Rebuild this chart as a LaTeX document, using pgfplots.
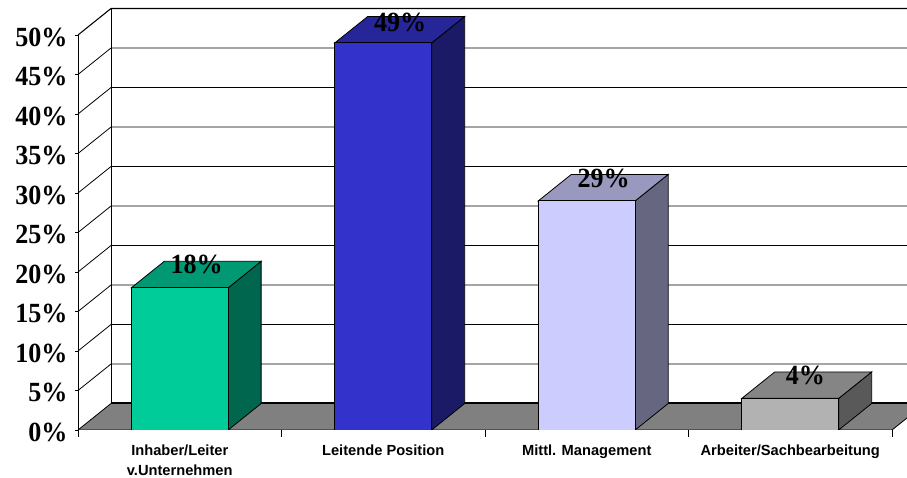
\documentclass[border=0pt]{standalone}
\usepackage{fontspec}
\setmainfont{Liberation Serif}
\newfontfamily\arialf{Liberation Sans}
\newfontfamily\labf[FakeStretch=0.94]{Liberation Serif}
\usepackage{pgfplots}
\pgfplotsset{compat=1.18}
\definecolor{gfront}{RGB}{0,204,153}\definecolor{gtop}{RGB}{0,153,115}\definecolor{gside}{RGB}{0,102,77}
\definecolor{bfront}{RGB}{51,51,204}\definecolor{btop}{RGB}{38,38,153}\definecolor{bside}{RGB}{26,26,102}
\definecolor{lfront}{RGB}{204,204,255}\definecolor{ltop}{RGB}{153,153,191}\definecolor{lside}{RGB}{102,102,128}
\definecolor{hfront}{RGB}{178,178,178}\definecolor{htop}{RGB}{133,133,133}\definecolor{hside}{RGB}{89,89,89}
\definecolor{floorc}{RGB}{128,128,128}
\begin{document}
\begin{tikzpicture}[x=1pt,y=1pt]
\useasboundingbox (-58.5,-36) rectangle (621.75,322.5);
\begin{axis}[
  at={(0pt,0pt)},anchor=south west,
  scale only axis,width=621.75pt,height=322.5pt,
  xmin=0,xmax=4.0737,ymin=0,ymax=54.43,
  axis lines*=left,axis line style={draw=none},
  tick align=outside,
  ytick={0,5,10,15,20,25,30,35,40,45,50},
  yticklabels={0\%,5\%,10\%,15\%,20\%,25\%,30\%,35\%,40\%,45\%,50\%},
  xtick={0.5,1.5,2.5,3.5},
  xticklabels={{Inhaber/Leiter\\v.Unternehmen},{Leitende Position},{Mittl. Management},{Arbeiter/Sachbearbeitung}},
  minor xtick={0,1,2,3,4},
  tickwidth=2.25pt,subtickwidth=5.25pt,
  major x tick style={draw=none},
  tick style={black,line width=0.6pt},
  /pgf/number format/assume math mode=true,
  y tick label style={font=\labf\fontsize{20.8}{21}\selectfont\bfseries,inner sep=1pt,xshift=-4.5pt,yshift=-1.8pt},
  x tick label style={font=\arialf\fontsize{11}{15}\selectfont\bfseries,align=center,yshift=-5pt},
  point meta=explicit symbolic,
]
% back grid lines
\addplot[black,line width=0.6pt,mark=none] coordinates {(0,5)(0.162,8.35)(4.0737,8.35)};
\addplot[black,line width=0.6pt,mark=none] coordinates {(0,10)(0.162,13.35)(4.0737,13.35)};
\addplot[black,line width=0.6pt,mark=none] coordinates {(0,15)(0.162,18.35)(4.0737,18.35)};
\addplot[black,line width=0.6pt,mark=none] coordinates {(0,20)(0.162,23.35)(4.0737,23.35)};
\addplot[black,line width=0.6pt,mark=none] coordinates {(0,25)(0.162,28.35)(4.0737,28.35)};
\addplot[black,line width=0.6pt,mark=none] coordinates {(0,30)(0.162,33.35)(4.0737,33.35)};
\addplot[black,line width=0.6pt,mark=none] coordinates {(0,35)(0.162,38.35)(4.0737,38.35)};
\addplot[black,line width=0.6pt,mark=none] coordinates {(0,40)(0.162,43.35)(4.0737,43.35)};
\addplot[black,line width=0.6pt,mark=none] coordinates {(0,45)(0.162,48.35)(4.0737,48.35)};
\addplot[black,line width=0.8pt,mark=none] coordinates {(0,50)(0.162,53.35)(4.0737,53.35)};
% floor
\addplot[fill=floorc,draw=none,mark=none] coordinates {(0,0)(0.162,3.35)(4.162,3.35)(4,0)} -- cycle;
\addplot[black,line width=1.6pt,mark=none] coordinates {(0.162,3.4)(4.0737,3.4)};
\addplot[black,line width=0.6pt,mark=none] coordinates {(0,0)(0.162,3.35)};
\addplot[black,line width=0.6pt,mark=none] coordinates {(0,0)(4,0)(4.0737,1.52)};
% walls
\addplot[black,line width=0.6pt,mark=none] coordinates {(0.162,3.35)(0.162,53.35)};
\addplot[black,line width=0.6pt,mark=none] coordinates {(0,0)(0,50)};
% bar 1: 18
\addplot[fill=gside,draw=black,line width=0.6pt,mark=none] coordinates {(0.738,0)(0.9,3.35)(0.9,21.35)(0.738,18)} -- cycle;
\addplot[fill=gtop,draw=black,line width=0.6pt,mark=none] coordinates {(0.262,18)(0.424,21.35)(0.9,21.35)(0.738,18)} -- cycle;
\addplot[fill=gfront,draw=black,line width=0.6pt,mark=none] coordinates {(0.262,0)(0.262,18)(0.738,18)(0.738,0)} -- cycle;
% bar 2: 49
\addplot[fill=bside,draw=black,line width=0.6pt,mark=none] coordinates {(1.738,0)(1.9,3.35)(1.9,52.35)(1.738,49)} -- cycle;
\addplot[fill=btop,draw=black,line width=0.6pt,mark=none] coordinates {(1.262,49)(1.424,52.35)(1.9,52.35)(1.738,49)} -- cycle;
\addplot[fill=bfront,draw=black,line width=0.6pt,mark=none] coordinates {(1.262,0)(1.262,49)(1.738,49)(1.738,0)} -- cycle;
% bar 3: 29
\addplot[fill=lside,draw=black,line width=0.6pt,mark=none] coordinates {(2.738,0)(2.9,3.35)(2.9,32.35)(2.738,29)} -- cycle;
\addplot[fill=ltop,draw=black,line width=0.6pt,mark=none] coordinates {(2.262,29)(2.424,32.35)(2.9,32.35)(2.738,29)} -- cycle;
\addplot[fill=lfront,draw=black,line width=0.6pt,mark=none] coordinates {(2.262,0)(2.262,29)(2.738,29)(2.738,0)} -- cycle;
% bar 4: 4
\addplot[fill=hside,draw=black,line width=0.6pt,mark=none] coordinates {(3.738,0)(3.9,3.35)(3.9,7.35)(3.738,4)} -- cycle;
\addplot[fill=htop,draw=black,line width=0.6pt,mark=none] coordinates {(3.262,4)(3.424,7.35)(3.9,7.35)(3.738,4)} -- cycle;
\addplot[fill=hfront,draw=black,line width=0.6pt,mark=none] coordinates {(3.262,0)(3.262,4)(3.738,4)(3.738,0)} -- cycle;
% value labels
\addplot[draw=none,mark=none,nodes near coords,
  nodes near coords style={font=\labf\fontsize{20.8}{21}\selectfont\bfseries,anchor=center,inner sep=0pt,text=black}]
  coordinates {(0.583,20.9)[18\%] (1.583,51.55)[49\%] (2.583,31.8)[29\%] (3.575,6.9)[4\%]};
\end{axis}
\end{tikzpicture}
\end{document}
